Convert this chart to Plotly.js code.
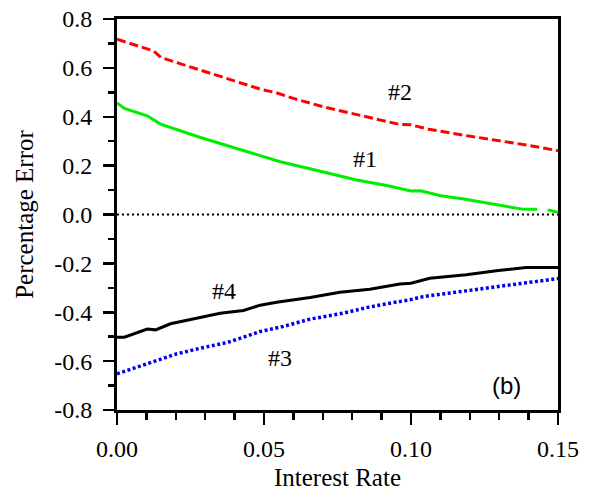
<!DOCTYPE html>
<html>
<head>
<meta charset="utf-8">
<script src="https://cdn.plot.ly/plotly-3.0.1.min.js"></script>
<style>html,body{margin:0;padding:0;background:#fff;}#chart{width:590px;height:491px;}</style>
</head>
<body>
<div id="chart"></div>
<script>
// Series #2 (red, dashed)
const x2 = [0, 0.0125, 0.015, 0.032, 0.049, 0.054, 0.060, 0.071, 0.084, 0.096, 0.100, 0.106, 0.117, 0.123, 0.134, 0.140, 0.150];
const y2 = [0.717, 0.669, 0.642, 0.577, 0.512, 0.499, 0.475, 0.438, 0.402, 0.369, 0.367, 0.349, 0.326, 0.315, 0.293, 0.283, 0.261];
// Series #1 (green, solid; short break near the end as in the figure)
const x1 = [0, 0.0025, 0.0103, 0.0148, 0.0284, 0.0487, 0.0555, 0.0713, 0.0815, 0.0917, 0.100, 0.1033, 0.1101, 0.118, 0.1248, 0.1327, 0.1384, 0.1429, 0.1440, 0.1465, 0.150];
const y1 = [0.457, 0.434, 0.404, 0.370, 0.315, 0.239, 0.216, 0.171, 0.141, 0.119, 0.096, 0.097, 0.077, 0.063, 0.050, 0.032, 0.021, 0.021, null, 0.019, 0.009];
// Series #4 (black, solid)
const x4 = [0, 0.0025, 0.0103, 0.0131, 0.0182, 0.0261, 0.0351, 0.043, 0.0487, 0.0543, 0.0657, 0.0758, 0.086, 0.0962, 0.100, 0.1064, 0.1188, 0.129, 0.1392, 0.150];
const y4 = [-0.502, -0.502, -0.469, -0.472, -0.447, -0.426, -0.404, -0.393, -0.371, -0.359, -0.340, -0.318, -0.306, -0.284, -0.281, -0.261, -0.247, -0.230, -0.217, -0.217];
// Series #3 (blue, dotted)
const x3 = [0, 0.0093, 0.0204, 0.0284, 0.0374, 0.043, 0.0487, 0.0566, 0.0657, 0.0769, 0.0849, 0.0928, 0.0996, 0.1041, 0.1143, 0.1222, 0.138, 0.1426, 0.150];
const y3 = [-0.652, -0.615, -0.570, -0.547, -0.524, -0.502, -0.479, -0.458, -0.428, -0.404, -0.381, -0.363, -0.349, -0.336, -0.320, -0.306, -0.284, -0.275, -0.262];
// Zero reference line
const xZero = [0, 0.15];
const yZero = [0, 0];

const xTickVals = [0, 0.05, 0.10, 0.15];
const xTickText = ['0.00', '0.05', '0.10', '0.15'];
const yTickVals = [-0.8, -0.6, -0.4, -0.2, 0, 0.2, 0.4, 0.6, 0.8];
const yTickText = ['-0.8', '-0.6', '-0.4', '-0.2', '0.0', '0.2', '0.4', '0.6', '0.8'];

const serif = 'Liberation Serif';

const traces = [
  {x: xZero, y: yZero, mode: 'lines', line: {color: 'black', width: 2, dash: '2px,3px'}, hoverinfo: 'skip'},
  {x: x2, y: y2, mode: 'lines', line: {color: '#ff0000', width: 3, dash: '9px,4px'}},
  {x: x1, y: y1, mode: 'lines', connectgaps: false, line: {color: '#00ee00', width: 3}},
  {x: x4, y: y4, mode: 'lines', line: {color: 'black', width: 3}},
  {x: x3, y: y3, mode: 'lines', line: {color: '#0000ee', width: 3.5, dash: '3px,2.5px'}}
];

const layout = {
  width: 590, height: 491,
  margin: {l: 116.5, r: 31.5, t: 19, b: 80.5},
  paper_bgcolor: 'white', plot_bgcolor: 'white',
  showlegend: false,
  font: {family: serif, color: 'black', size: 22},
  xaxis: {
    range: [0, 0.15], showgrid: false, zeroline: false,
    showline: true, linecolor: 'black', linewidth: 3, mirror: true,
    ticks: 'outside', ticklen: 12, tickwidth: 2.5, tickcolor: 'black',
    tickmode: 'array', tickvals: xTickVals, ticktext: xTickText,
    minor: {tickmode: 'linear', tick0: 0, dtick: 0.01, ticks: 'outside', ticklen: 7, tickwidth: 2.5, tickcolor: 'black'},
    tickfont: {family: serif, size: 24, color: 'black'},
    ticklabelstandoff: 3,
    title: {text: 'Interest Rate', font: {family: serif, size: 25, color: 'black'}, standoff: 9}
  },
  yaxis: {
    range: [-0.8, 0.8], showgrid: false, zeroline: false,
    showline: true, linecolor: 'black', linewidth: 3, mirror: true,
    ticks: 'outside', ticklen: 11, tickwidth: 2.5, tickcolor: 'black',
    tickmode: 'array', tickvals: yTickVals, ticktext: yTickText,
    minor: {tickmode: 'linear', tick0: 0, dtick: 0.1, ticks: 'outside', ticklen: 6, tickwidth: 2.5, tickcolor: 'black'},
    tickfont: {family: serif, size: 24, color: 'black'},
    ticklabelstandoff: 6,
    title: {text: 'Percentage Error', font: {family: serif, size: 25, color: 'black'}, standoff: 14}
  },
  annotations: [
    {x: 0.0962, y: 0.50, text: '#2', showarrow: false, font: {family: serif, size: 24, color: 'black'}},
    {x: 0.0843, y: 0.227, text: '#1', showarrow: false, font: {family: serif, size: 24, color: 'black'}},
    {x: 0.0365, y: -0.313, text: '#4', showarrow: false, font: {family: serif, size: 24, color: 'black'}},
    {x: 0.0555, y: -0.586, text: '#3', showarrow: false, font: {family: serif, size: 24, color: 'black'}},
    {x: 0.1325, y: -0.701, text: '(b)', showarrow: false, font: {family: 'Liberation Sans', size: 24, color: 'black'}}
  ]
};

Plotly.newPlot('chart', traces, layout, {displayModeBar: false, staticPlot: true});
</script>
</body>
</html>
